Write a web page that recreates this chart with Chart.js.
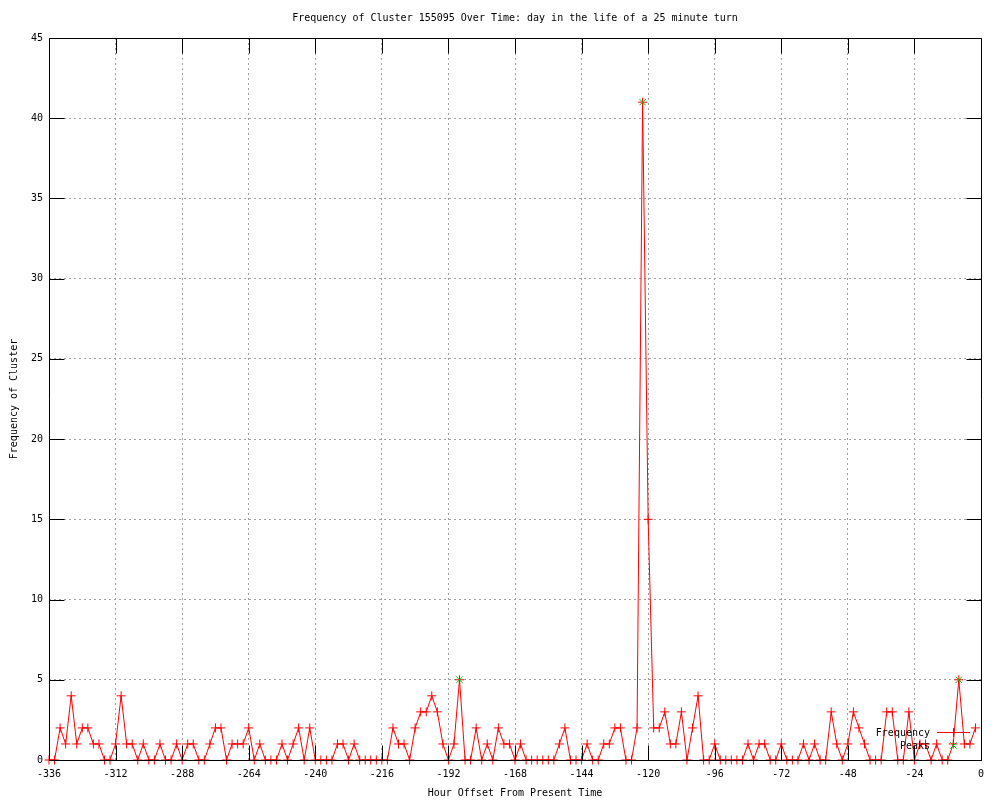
<!DOCTYPE html>
<html>
<head>
<meta charset="utf-8">
<script src="https://cdn.jsdelivr.net/npm/chart.js@4.4.1/dist/chart.umd.min.js"></script>
<style>
html,body{margin:0;padding:0;background:#fff;}
canvas{display:block;}
</style>
</head>
<body>
<canvas id="c" width="1000" height="800"></canvas>
<script>
const TITLE = "Frequency of Cluster 155095 Over Time: day in the life of a 25 minute turn";
const X_LABEL = "Hour Offset From Present Time";
const Y_LABEL = "Frequency of Cluster";
const SERIES_NAMES = ["Frequency", "Peaks"];

const hours = [-336,-334,-332,-330,-328,-326,-324,-322,-320,-318,-316,-314,-312,-310,-308,-306,-304,-302,-300,-298,-296,-294,-292,-290,-288,-286,-284,-282,-280,-278,-276,-274,-272,-270,-268,-266,-264,-262,-260,-258,-256,-254,-252,-250,-248,-246,-244,-242,-240,-238,-236,-234,-232,-230,-228,-226,-224,-222,-220,-218,-216,-214,-212,-210,-208,-206,-204,-202,-200,-198,-196,-194,-192,-190,-188,-186,-184,-182,-180,-178,-176,-174,-172,-170,-168,-166,-164,-162,-160,-158,-156,-154,-152,-150,-148,-146,-144,-142,-140,-138,-136,-134,-132,-130,-128,-126,-124,-122,-120,-118,-116,-114,-112,-110,-108,-106,-104,-102,-100,-98,-96,-94,-92,-90,-88,-86,-84,-82,-80,-78,-76,-74,-72,-70,-68,-66,-64,-62,-60,-58,-56,-54,-52,-50,-48,-46,-44,-42,-40,-38,-36,-34,-32,-30,-28,-26,-24,-22,-20,-18,-16,-14,-12,-10,-8,-6,-4,-2];

const frequency = [
0,0,2,1,4,1,2,2,1,1,
0,0,1,4,1,1,0,1,0,0,
1,0,0,1,0,1,1,0,0,1,
2,2,0,1,1,1,2,0,1,0,
0,0,1,0,1,2,0,2,0,0,
0,0,1,1,0,1,0,0,0,0,
0,0,2,1,1,0,2,3,3,4,
3,1,0,1,5,0,0,2,0,1,
0,2,1,1,0,1,0,0,0,0,
0,0,1,2,0,0,0,1,0,0,
1,1,2,2,0,0,2,41,15,2,
2,3,1,1,3,0,2,4,0,0,
1,0,0,0,0,0,1,0,1,1,
0,0,1,0,0,0,1,0,1,0,
0,3,1,0,1,3,2,1,0,0,
0,3,3,0,0,3,0,1,1,0,
1,0,0,1,5,1,1,2];

const peakHours = [-188, -122, -8];
const peakValues = [5, 41, 5];

const xTicks = [-336,-312,-288,-264,-240,-216,-192,-168,-144,-120,-96,-72,-48,-24,0];
const yTicks = [0,5,10,15,20,25,30,35,40,45];

const FONT = "10px 'DejaVu Sans Mono', 'Liberation Mono', monospace";
const RED = "#ff0000";
const GREEN = "#00c000";

function drawCross(ctx, x, y, r, color) {
  ctx.save();
  ctx.strokeStyle = color; ctx.lineWidth = 1;
  ctx.beginPath();
  ctx.moveTo(x - r, y); ctx.lineTo(x + r, y);
  ctx.moveTo(x, y - r); ctx.lineTo(x, y + r);
  ctx.stroke();
  ctx.restore();
}
function drawX(ctx, x, y, r, color) {
  ctx.save();
  ctx.strokeStyle = color; ctx.lineWidth = 1;
  const d = r * 0.7071;
  ctx.beginPath();
  ctx.moveTo(x - d, y - d); ctx.lineTo(x + d, y + d);
  ctx.moveTo(x - d, y + d); ctx.lineTo(x + d, y - d);
  ctx.stroke();
  ctx.restore();
}

const framePlugin = {
  id: 'frame',
  afterDatasetsDraw(chart) {
    const ctx = chart.ctx, a = chart.chartArea;
    const xs = chart.scales.x, ys = chart.scales.y;
    ctx.save();
    ctx.strokeStyle = '#000'; ctx.lineWidth = 1;
    const L = Math.round(a.left) + 0.5, R = Math.round(a.right) + 0.5;
    const T = Math.round(a.top) + 0.5, B = Math.round(a.bottom) + 0.5;
    ctx.beginPath();
    ctx.rect(L, T, R - L, B - T);
    const tl = 15;
    yTicks.forEach(v => {
      const py = Math.round(ys.getPixelForValue(v)) + 0.5;
      ctx.moveTo(L, py); ctx.lineTo(L + tl, py);
      ctx.moveTo(R, py); ctx.lineTo(R - tl, py);
    });
    xTicks.forEach(v => {
      const px = Math.round(xs.getPixelForValue(v)) + 0.5;
      ctx.moveTo(px, B); ctx.lineTo(px, B - tl);
      ctx.moveTo(px, T); ctx.lineTo(px, T + tl);
    });
    ctx.stroke();
    ctx.restore();
  },
  afterDraw(chart) {
    const ctx = chart.ctx, a = chart.chartArea;
    const cx = (a.left + a.right) / 2;
    ctx.save();
    ctx.font = FONT;
    ctx.fillStyle = '#000';
    ctx.textBaseline = 'middle';
    ctx.textAlign = 'center';
    ctx.fillText(TITLE, cx, 18);
    ctx.fillText(X_LABEL, cx, 793);
    ctx.save();
    ctx.translate(14, (a.top + a.bottom) / 2);
    ctx.rotate(-Math.PI / 2);
    ctx.fillText(Y_LABEL, 0, 0);
    ctx.restore();
    // key
    ctx.textAlign = 'right';
    ctx.fillText(SERIES_NAMES[0], 930, 733);
    ctx.fillText(SERIES_NAMES[1], 930, 746);
    ctx.strokeStyle = RED; ctx.lineWidth = 1;
    ctx.beginPath();
    ctx.moveTo(937, 732.5); ctx.lineTo(970, 732.5);
    ctx.stroke();
    drawCross(ctx, 953.5, 732.5, 4.5, RED);
    drawX(ctx, 953.5, 745.5, 4.5, GREEN);
    ctx.restore();
  }
};

const freqData = hours.map((h, i) => ({x: h, y: frequency[i]}));
const peakData = peakHours.map((h, i) => ({x: h, y: peakValues[i]}));

new Chart(document.getElementById('c'), {
  type: 'line',
  data: {
    datasets: [
      {
        label: SERIES_NAMES[1],
        data: peakData,
        showLine: false,
        pointStyle: 'crossRot',
        pointRadius: 4.5,
        pointBorderColor: GREEN,
        pointBackgroundColor: GREEN,
        pointBorderWidth: 1,
        clip: false
      },
      {
        label: SERIES_NAMES[0],
        data: freqData,
        borderColor: RED,
        borderWidth: 1,
        tension: 0,
        fill: false,
        pointStyle: 'cross',
        pointRadius: 4.5,
        pointBorderColor: RED,
        pointBorderWidth: 1,
        clip: false
      }
    ]
  },
  options: {
    responsive: false,
    animation: false,
    devicePixelRatio: 1,
    layout: { padding: { top: 38, right: 19, left: 0, bottom: 0 } },
    plugins: { legend: { display: false }, tooltip: { enabled: false }, title: { display: false } },
    scales: {
      x: {
        type: 'linear',
        min: -336, max: 0,
        afterFit(s) { s.height = 40; },
        afterBuildTicks(s) { s.ticks = xTicks.map(v => ({value: v})); },
        ticks: {
          autoSkip: false, maxRotation: 0, minRotation: 0,
          padding: 8, color: '#000',
          font: { family: "'DejaVu Sans Mono', monospace", size: 10 },
          callback: v => String(v)
        },
        grid: { color: '#a0a0a0', lineWidth: 1, drawTicks: false },
        border: { display: false, dash: [2, 3] }
      },
      y: {
        type: 'linear',
        min: 0, max: 45,
        afterFit(s) { s.width = 49; },
        afterBuildTicks(s) { s.ticks = yTicks.map(v => ({value: v})); },
        ticks: {
          padding: 6, color: '#000',
          font: { family: "'DejaVu Sans Mono', monospace", size: 10 },
          callback: v => String(v)
        },
        grid: { color: '#a0a0a0', lineWidth: 1, drawTicks: false },
        border: { display: false, dash: [2, 3] }
      }
    }
  },
  plugins: [framePlugin]
});
</script>
</body>
</html>
